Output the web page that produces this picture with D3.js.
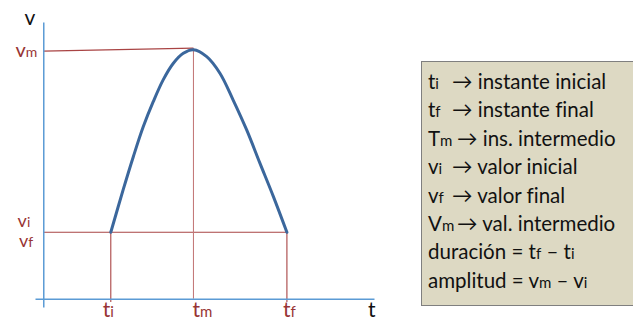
<!DOCTYPE html>
<html>
<head>
<meta charset="utf-8">
<script src="https://cdn.jsdelivr.net/npm/d3@7"></script>
<style>
  html, body { margin: 0; padding: 0; background: #fff; }
  svg { display: block; }
  text { font-family: Lato, "Noto Sans", sans-serif; }
</style>
</head>
<body>
<svg id="chart" width="633" height="322"></svg>
<script>
// Signal sample: time t and value v along the pulse
const curveT = [2.45, 2.9, 3.27, 3.63, 3.99, 4.35, 4.72, 5.08, 5.45, 5.93, 6.41, 6.89, 7.38, 7.86, 8.35, 8.84];
const curveV = [2.4, 3.94, 5.14, 6.22, 7.12, 7.91, 8.51, 8.87, 9.0, 8.75, 8.15, 7.18, 6.10, 4.90, 3.69, 2.4];

// Characteristic instants and values
const instantNames = ["ti", "tm", "tf"];
const instantValues = [2.45, 5.45, 8.84];
const levelNames = ["vm", "vi", "vf"];
const levelValues = [9.0, 2.4, 2.4];

// Axis titles
const axisTitles = ["v", "t"];

// Legend: symbol (base + subscript) and meaning
const legendBase = ["t", "t", "T", "v", "v", "V"];
const legendSub = ["i", "f", "m", "i", "f", "m"];
const legendText = ["instante inicial", "instante final", "ins. intermedio", "valor inicial", "valor final", "val. intermedio"];
const formulaLabels = ["duración", "amplitud"];
const formulaTerms = [[["t", "f"], ["t", "i"]], [["v", "m"], ["v", "i"]]];

const svg = d3.select("#chart");
const x = d3.scaleLinear().domain([-0.3, 12]).range([35, 374]);
const y = d3.scaleLinear().domain([-0.3, 10]).range([307, 22]);

const ti = instantValues[0], tm = instantValues[1], tf = instantValues[2];
const vm = levelValues[0], vi = levelValues[1];

const red = "#a94444";
const labelRed = "#983434";
const axisBlue = "#5b9bd5";

// Guide lines
const guides = svg.append("g").attr("fill", "none").attr("stroke-width", 1.1);
guides.append("line").attr("x1", x(0)).attr("x2", x(tm)).attr("y1", y(vm) + 1.5).attr("y2", y(vm) - 1.5).attr("stroke", red);
guides.append("line").attr("x1", x(0)).attr("x2", x(tf)).attr("y1", y(vi)).attr("y2", y(vi)).attr("stroke", red);
guides.append("line").attr("x1", x(tm)).attr("x2", x(tm)).attr("y1", y(vm) - 1.5).attr("y2", y(0)).attr("stroke", "#c47a7a");
guides.append("line").attr("x1", x(ti)).attr("x2", x(ti)).attr("y1", y(vi)).attr("y2", y(-0.12)).attr("stroke", red);
guides.append("line").attr("x1", x(tf)).attr("x2", x(tf)).attr("y1", y(vi)).attr("y2", y(-0.12)).attr("stroke", red);

// Axes (domain lines only)
svg.append("g").attr("transform", `translate(0,${y(0)})`)
  .call(d3.axisBottom(x).tickValues([]).tickSizeOuter(0))
  .select(".domain").attr("stroke", axisBlue).attr("stroke-width", 1.5);
svg.append("g").attr("transform", `translate(${x(0)},0)`)
  .call(d3.axisLeft(y).tickValues([]).tickSizeOuter(0))
  .select(".domain").attr("stroke", axisBlue).attr("stroke-width", 1.5);

// Pulse curve
const pts = curveT.map((t, i) => [t, curveV[i]]);
svg.append("path")
  .datum(pts)
  .attr("fill", "none")
  .attr("stroke", "#3b679c")
  .attr("stroke-width", 3)
  .attr("stroke-linecap", "round")
  .attr("d", d3.line().x(d => x(d[0])).y(d => y(d[1])).curve(d3.curveCatmullRom));

// Label with subscript
function subLabel(sel, base, sub, size, subSize) {
  sel.append("tspan").text(base).attr("font-size", size);
  sel.append("tspan").text(sub).attr("font-size", subSize);
}

// Axis titles
svg.append("text").attr("x", x(0) - 8).attr("y", 25).attr("text-anchor", "end")
  .attr("font-size", 21).attr("fill", "#111").text(axisTitles[0]);
svg.append("text").attr("x", 368).attr("y", 317)
  .attr("font-size", 21).attr("fill", "#111").text(axisTitles[1]);

// Level labels on the v axis
const levelOffsets = [[-6, 7], [-13, -5], [-10, 15]];
const levelSizes = [20, 18, 18];
levelNames.forEach((n, i) => {
  const t = svg.append("text").attr("x", x(0) + levelOffsets[i][0]).attr("y", y(levelValues[i]) + levelOffsets[i][1])
    .attr("text-anchor", "end").attr("fill", labelRed);
  subLabel(t, n[0], n.slice(1), levelSizes[i], 14);
});

// Instant labels on the t axis
const instantOffsets = [-8, -1, -4];
instantNames.forEach((n, i) => {
  const t = svg.append("text").attr("x", x(instantValues[i]) + instantOffsets[i]).attr("y", 317)
    .attr("fill", labelRed);
  subLabel(t, n[0], n.slice(1), 21, 15);
});

// Legend box
const lg = svg.append("g");
lg.append("rect").attr("x", 421.5).attr("y", 61.5).attr("width", 220).attr("height", 244)
  .attr("fill", "#ddd9c3").attr("stroke", "#7f7f7f").attr("stroke-width", 1);

const rowY = d3.range(8).map(i => 89 + i * 28.4);
const fs = 20.5, sfs = 15;
legendBase.forEach((b, i) => {
  const t = lg.append("text").attr("x", 428).attr("y", rowY[i]).attr("fill", "#111");
  subLabel(t, b, legendSub[i], fs, sfs);
  const arrowX = (legendBase[i] === "T" || legendBase[i] === "V") ? 457 : 452;
  lg.append("text").attr("x", arrowX).attr("y", rowY[i]).attr("font-size", fs).attr("fill", "#111")
    .style("font-variant-ligatures", "none")
    .text("\u2192 " + legendText[i]);
});
formulaLabels.forEach((f, k) => {
  const t = lg.append("text").attr("x", 428).attr("y", rowY[6 + k]).attr("fill", "#111");
  t.append("tspan").attr("font-size", fs).text(f + " = ");
  const terms = formulaTerms[k];
  subLabel(t, terms[0][0], terms[0][1], fs, sfs);
  t.append("tspan").attr("font-size", fs).text(" \u2013 ");
  subLabel(t, terms[1][0], terms[1][1], fs, sfs);
});
</script>
</body>
</html>
